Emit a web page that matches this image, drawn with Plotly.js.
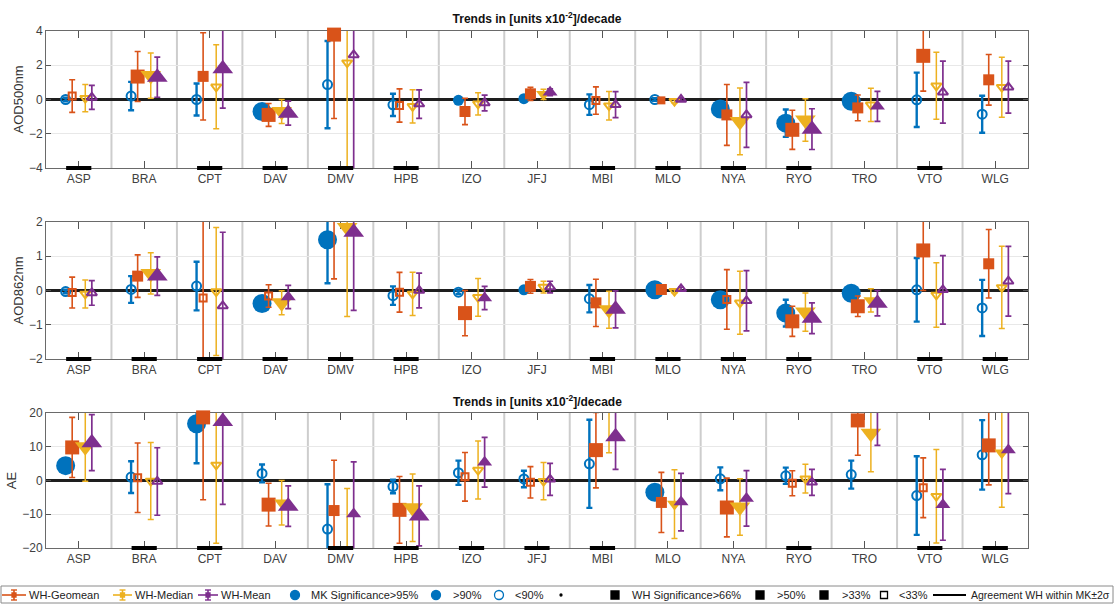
<!DOCTYPE html>
<html><head><meta charset="utf-8">
<script src="https://cdn.plot.ly/plotly-3.0.1.min.js"></script>
<style>html,body{margin:0;padding:0;background:#fff}#chart{width:1116px;height:604px}</style>
</head><body><div id="chart"></div>
<script>
// ---------------- DATA ----------------
const stations = ['ASP','BRA','CPT','DAV','DMV','HPB','IZO','JFJ','MBI','MLO','NYA','RYO','TRO','VTO','WLG'];

// AOD500nm  (sig: MK 0=<90%,1=>90%,2=>95% ; WH 0=<33%,1=>33%,2=>50%,3=>66%)
const mk500      = [0.0, 0.2, 0.0, -0.7, 0.87, -0.31, -0.05, 0.05, -0.3, 0.0, -0.55, -1.38, -0.1, -0.02, -0.86];
const mk500err   = [0.1, 0.83, 0.93, 0.3, 2.55, 0.65, 0.1, 0.1, 0.6, 0.08, 0.3, 0.8, 0.3, 1.59, 1.08];
const mk500sig   = [0,0,0,2,0,0,1,1,0,0,2,2,2,0,0];
const geo500     = [0.2, 1.34, 1.35, -0.9, 3.79, -0.35, -0.7, 0.33, -0.06, -0.05, -0.9, -1.77, -0.49, 2.55, 1.15];
const geo500err  = [0.95, 1.46, 2.55, 0.67, 4.9, 0.97, 0.77, 0.38, 0.8, 0.1, 1.78, 1.14, 0.75, 2.06, 1.48];
const geo500sig  = [0,3,2,3,3,0,2,2,0,1,2,3,2,3,2];
const med500     = [0.08, 1.4, 0.74, -0.7, 2.15, -0.4, -0.25, 0.3, -0.36, -0.1, -1.28, -1.2, -0.31, 0.8, 0.72];
const med500err  = [0.8, 1.32, 2.45, 0.7, 7.0, 0.97, 0.65, 0.3, 0.83, 0.1, 1.95, 1.24, 0.97, 1.96, 1.75];
const med500sig  = [0,3,0,3,0,0,0,2,0,0,3,3,0,0,0];
const mean500    = [0.12, 1.3, 1.79, -0.8, 2.6, -0.27, -0.2, 0.42, -0.3, 0.0, -0.9, -1.73, -0.4, 0.43, 0.72];
const mean500err = [0.7, 1.17, 2.29, 0.7, 7.5, 0.83, 0.46, 0.2, 0.76, 0.1, 1.9, 1.19, 0.88, 1.81, 1.52];
const mean500sig = [0,3,3,3,0,0,0,2,0,0,0,3,2,0,0];
const agree500   = [1,0,1,1,1,1,0,0,1,1,1,1,0,1,0];

// AOD862nm
const mk862      = [-0.03, 0.03, 0.13, -0.38, 1.48, -0.15, -0.05, 0.02, -0.24, 0.02, -0.27, -0.66, -0.08, 0.02, -0.51];
const mk862err   = [0.05, 0.39, 0.71, 0.15, 1.27, 0.27, 0.05, 0.05, 0.4, 0.05, 0.15, 0.39, 0.1, 0.93, 0.82];
const mk862sig   = [0,0,0,2,2,0,0,1,0,2,2,2,2,0,0];
const geo862     = [-0.06, 0.42, -0.22, -0.16, 2.4, -0.05, -0.66, 0.12, -0.36, 0.03, -0.26, -0.9, -0.46, 1.17, 0.78];
const geo862err  = [0.45, 0.62, 3.0, 0.33, 2.06, 0.58, 0.66, 0.2, 0.69, 0.05, 0.87, 0.44, 0.3, 1.17, 1.0];
const geo862sig  = [0,2,0,0,3,0,3,2,2,2,0,3,3,3,2];
const med862     = [-0.1, 0.5, -0.03, -0.36, 1.84, -0.1, -0.2, 0.1, -0.56, -0.02, -0.36, -0.63, -0.29, -0.13, 0.09];
const med862err  = [0.41, 0.6, 1.87, 0.35, 2.6, 0.63, 0.55, 0.17, 0.54, 0.05, 0.92, 0.56, 0.34, 0.94, 1.2];
const med862sig  = [0,3,0,3,3,0,0,0,3,0,0,3,2,0,0];
const mean862    = [-0.07, 0.42, -0.45, -0.19, 1.7, 0.0, -0.22, 0.1, -0.55, 0.05, -0.3, -0.81, -0.37, 0.02, 0.27];
const mean862err = [0.36, 0.56, 2.15, 0.34, 2.28, 0.51, 0.34, 0.17, 0.54, 0.05, 0.88, 0.45, 0.37, 1.0, 1.02];
const mean862sig = [0,3,0,2,3,0,2,0,3,0,0,3,3,0,0];
const agree862   = [1,1,1,1,1,1,0,0,1,1,1,1,0,1,1];

// AE
const mkAE       = [4.4, 1.0, 16.8, 2.1, -14.4, -1.8, 2.3, 0.45, 4.95, -3.5, 0.5, 1.4, 1.75, -4.45, 7.6];
const mkAEerr    = [1.5, 4.7, 11.7, 2.65, 13.3, 2.0, 3.6, 2.45, 13.05, 1.5, 3.4, 2.4, 4.15, 11.65, 10.3];
const mkAEsig    = [2,0,2,0,0,0,0,0,0,2,0,0,0,0,0];
const geoAE      = [9.8, 0.8, 18.7, -7.15, -8.9, -8.7, 1.1, -0.55, 9.0, -6.5, -8.0, -0.8, 17.8, -2.15, 10.4];
const geoAEerr   = [8.9, 10.3, 24.4, 6.35, 14.9, 9.9, 7.2, 4.65, 11.2, 8.9, 8.7, 3.7, 10.3, 8.85, 11.7];
const geoAEsig   = [3,0,3,3,2,3,0,0,3,2,3,0,3,0,3];
const medAE      = [10.0, -0.15, 4.6, -6.6, -21.5, -8.1, 3.1, -0.2, 21.0, -7.0, -7.85, 0.55, 14.0, -4.65, 8.2];
const medAEerr   = [10.2, 11.4, 23.2, 6.6, 19.1, 10.0, 8.6, 5.5, 12.8, 10.2, 8.35, 4.25, 11.4, 13.85, 16.1];
const medAEsig   = [3,0,0,2,0,3,0,0,0,2,3,0,3,0,2];
const meanAE     = [11.2, -0.3, 17.5, -7.6, -9.9, -10.5, 5.4, 0.35, 13.0, -6.4, -5.3, -0.55, 21.0, -7.2, 9.0];
const meanAEerr  = [8.3, 10.0, 24.6, 6.0, 15.4, 8.9, 7.35, 4.75, 9.7, 8.5, 8.2, 3.85, 10.6, 10.5, 12.9];
const meanAEsig  = [3,0,3,3,2,3,2,0,3,2,2,0,3,2,2];
const agreeAE    = [0,1,1,0,1,1,1,1,1,0,0,1,0,1,1];

const panelTitles = ['AOD500nm','AOD862nm','AE'];
const chartTitle = '<b>Trends in [units x10<sup>-2</sup>]/decade</b>';
const seriesNames = ['MK','WH-Geomean','WH-Median','WH-Mean'];

// ---------------- STYLE / LAYOUT ----------------
const W = 1116, H = 604, L = 46, R = 88;
const plotW = W - L - R;
const px2x = px => (px - L) / plotW;
const py2y = py => 1 - py / H;
const FONT = 'Liberation Sans, Arial, Helvetica, sans-serif';
const C = {mk:'#0072BD', geo:'#D95319', med:'#EDB120', mean:'#7E2F8E'};

const panels = [
  {data:[[mk500,mk500err,mk500sig],[geo500,geo500err,geo500sig],[med500,med500err,med500sig],[mean500,mean500err,mean500sig]],
   agree:agree500, range:[-4,4], dtick:2, top:31, bottom:168},
  {data:[[mk862,mk862err,mk862sig],[geo862,geo862err,geo862sig],[med862,med862err,med862sig],[mean862,mean862err,mean862sig]],
   agree:agree862, range:[-2,2], dtick:1, top:222, bottom:359},
  {data:[[mkAE,mkAEerr,mkAEsig],[geoAE,geoAEerr,geoAEsig],[medAE,medAEerr,medAEsig],[meanAE,meanAEerr,meanAEsig]],
   agree:agreeAE, range:[-20,20], dtick:10, top:413, bottom:548}
];

const seriesStyle = [
  {color:C.mk,   off:-0.2, thick:2.4, cap:3, sym:['circle-open','circle','circle'], size:[9,11,19]},
  {color:C.geo,  off:-0.1, thick:1.6, cap:3, sym:['square-open','square','square','square'], size:[7,8,11,14]},
  {color:C.med,  off:0.1,  thick:1.5, cap:3, sym:['triangle-down-open','triangle-down','triangle-down','triangle-down'], size:[9,10,13,18]},
  {color:C.mean, off:0.2,  thick:1.7, cap:3, sym:['triangle-up-open','triangle-up','triangle-up','triangle-up'], size:[9,10,13,18]}
];

const xs = stations.map((s,i) => i + 1);
const traces = [];
const shapes = [];
const annotations = [];
const layout = {
  width: W, height: H,
  margin: {l: L, r: R, t: 0, b: 0, pad: 0},
  paper_bgcolor: '#fff', plot_bgcolor: '#fff',
  showlegend: false,
  font: {family: FONT, size: 12, color: '#404040'},
  title: {text: chartTitle, x: 0.5, xref: 'paper', xanchor: 'center', y: py2y(19), yref: 'container', yanchor: 'middle',
          font: {family: FONT, size: 12, color: '#111'}}
};

panels.forEach((p, pi) => {
  const n = pi === 0 ? '' : String(pi + 1);
  const xa = 'x' + n, ya = 'y' + n;
  layout['xaxis' + n] = {
    domain: [0, 1], anchor: ya, range: [0.5, stations.length + 0.5],
    tickmode: 'array', tickvals: xs, ticktext: stations,
    ticks: 'inside', ticklen: 7, tickwidth: 1, tickcolor: '#555',
    showline: true, linecolor: '#6a6a6a', linewidth: 1, mirror: 'ticks',
    showgrid: false, zeroline: false, fixedrange: true, layer: 'below traces',
    tickfont: {family: FONT, size: 12, color: '#404040'}
  };
  layout['yaxis' + n] = {
    domain: [py2y(p.bottom), py2y(p.top)], anchor: xa, range: p.range,
    tickmode: 'linear', tick0: 0, dtick: p.dtick,
    ticks: 'inside', ticklen: 5, tickwidth: 1, tickcolor: '#555',
    showline: true, linecolor: '#6a6a6a', linewidth: 1, mirror: 'ticks',
    showgrid: true, gridcolor: '#e8e8e8', gridwidth: 1,
    zeroline: true, zerolinecolor: '#1e1e1e', zerolinewidth: 2.5,
    automargin: false, fixedrange: true, layer: 'below traces',
    tickfont: {family: FONT, size: 12, color: '#404040'},
    title: {text: panelTitles[pi], standoff: 2, font: {family: FONT, size: 13, color: '#333'}}
  };
  // station separators
  for (let i = 1; i < stations.length; i++) {
    shapes.push({type: 'line', xref: xa, yref: ya + ' domain', x0: i + 0.5, x1: i + 0.5, y0: 0, y1: 1,
                 line: {color: '#cdcdcd', width: 2}, layer: 'below'});
  }
  // series
  p.data.forEach((d, si) => {
    const st = seriesStyle[si];
    const [vals, errs, sig] = d;
    const xx = xs.map(v => v + st.off);
    traces.push({type: 'scatter', mode: 'markers', x: xx, y: vals, xaxis: xa, yaxis: ya,
      name: seriesNames[si], hoverinfo: 'skip', cliponaxis: true,
      marker: {opacity: 0, size: 2, color: st.color},
      error_y: {type: 'data', array: errs, symmetric: true, color: st.color, thickness: st.thick, width: st.cap}});
    traces.push({type: 'scatter', mode: 'markers', x: xx, y: vals, xaxis: xa, yaxis: ya,
      name: seriesNames[si], cliponaxis: false,
      marker: {color: st.color, opacity: 1,
               symbol: sig.map(s => st.sym[s]),
               size: sig.map(s => st.size[s]),
               line: {color: st.color, width: sig.map(s => s === 0 ? 2 : 0)}}});
  });
  // agreement bars
  const ax = [], ay = [];
  p.agree.forEach((a, i) => { if (a) { ax.push(xs[i]); ay.push(p.range[0]); } });
  traces.push({type: 'scatter', mode: 'markers', x: ax, y: ay, xaxis: xa, yaxis: ya, cliponaxis: false,
    hoverinfo: 'skip', marker: {symbol: 'line-ew', size: 18, color: '#000', opacity: 1, line: {color: '#000', width: 4}}});
});

// AE panel title
annotations.push({text: chartTitle, xref: 'paper', yref: 'paper', x: 0.5, y: py2y(401), xanchor: 'center', yanchor: 'middle',
  showarrow: false, font: {family: FONT, size: 12, color: '#111'}});

// ---------------- LEGEND (bottom strip) ----------------
const LY = 595;
const legFont = {family: FONT, size: 11, color: '#222'};
function legText(txt, px, anchor, size) {
  annotations.push({text: txt, xref: 'paper', yref: 'paper', x: px2x(px), y: py2y(LY), xanchor: anchor || 'left', yanchor: 'middle',
    showarrow: false, font: {family: FONT, size: size || 11, color: '#222'}, borderpad: 0});
}
function pLine(x0, y0, x1, y1, color, w) {
  shapes.push({type: 'line', xref: 'paper', yref: 'paper', x0: px2x(x0), x1: px2x(x1), y0: py2y(y0), y1: py2y(y1),
    line: {color: color, width: w}});
}
function pMark(type, cx, r, fill, stroke) {
  shapes.push({type: type, xref: 'paper', yref: 'paper', xsizemode: 'pixel', ysizemode: 'pixel',
    xanchor: px2x(cx), yanchor: py2y(LY), x0: -r, x1: r, y0: -r, y1: r,
    fillcolor: fill, line: {color: stroke, width: 1.3}});
}
// box
shapes.push({type: 'rect', xref: 'paper', yref: 'paper', x0: px2x(1), x1: px2x(1113), y0: py2y(603), y1: py2y(586),
  line: {color: '#8a8a8a', width: 1}, fillcolor: 'rgba(0,0,0,0)'});
[[2, 26, C.geo, 'WH-Geomean', 28], [113, 132, C.med, 'WH-Median', 134], [198, 218, C.mean, 'WH-Mean', 220]].forEach(it => {
  const [a, b, col, lab, tx] = it; const cx = (a + b) / 2;
  pLine(a, LY, b, LY, col, 1.6);
  pLine(cx, LY - 5, cx, LY + 5, col, 1.6);
  pLine(cx - 3, LY - 5, cx + 3, LY - 5, col, 1.4);
  pLine(cx - 3, LY + 5, cx + 3, LY + 5, col, 1.4);
  pMark('rect', cx, 2, col, col);
  legText(lab, tx);
});
pMark('circle', 295, 4.5, C.mk, C.mk); legText('MK Significance>95%', 310);
pMark('circle', 436, 4.5, C.mk, C.mk); legText('>90%', 452);
pMark('circle', 499, 4.5, '#fff', C.mk); legText('<90%', 514);
pMark('circle', 561, 1, '#000', '#000');
pMark('rect', 615, 4, '#000', '#000'); legText('WH Significance>66%', 631);
pMark('rect', 760, 4, '#000', '#000'); legText('>50%', 776);
pMark('rect', 824, 4, '#000', '#000'); legText('>33%', 841);
pMark('rect', 884, 3.5, '#fff', '#000'); legText('<33%', 898);
pLine(933, LY, 966, LY, '#000', 2); legText('Agreement WH within MK\u00B12\u03C3', 1111, 'right', 10.5);

layout.shapes = shapes;
layout.annotations = annotations;
Plotly.newPlot('chart', traces, layout, {displayModeBar: false, staticPlot: true});
</script>
</body></html>
